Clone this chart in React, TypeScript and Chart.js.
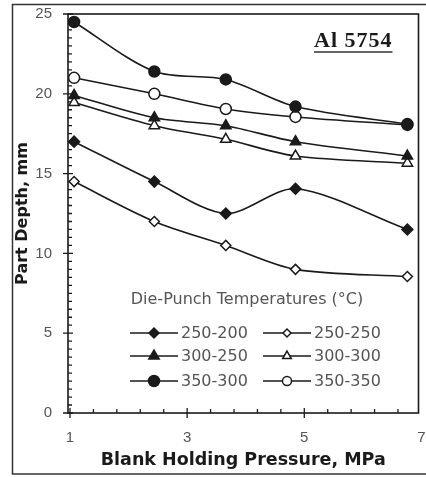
import React, { useEffect, useRef } from 'react';
import { Chart, registerables } from 'chart.js';
import { drawPoint } from 'chart.js/helpers';

Chart.register(...registerables);

// ---- data ----
const pressures = [1.07, 2.44, 3.66, 4.85, 6.76];
const depth250_200 = [17.0, 14.5, 12.5, 14.05, 11.5];
const depth250_250 = [14.5, 12.0, 10.5, 9.0, 8.55];
const depth300_250 = [19.9, 18.5, 18.0, 17.0, 16.1];
const depth300_300 = [19.45, 18.0, 17.15, 16.1, 15.65];
const depth350_300 = [24.5, 21.4, 20.9, 19.2, 18.1];
const depth350_350 = [21.0, 20.0, 19.05, 18.55, 18.05];
const seriesLabels = ['250-200', '250-250', '300-250', '300-300', '350-300', '350-350'];
const xTickValues = [1, 3, 5, 7];
const yTickValues = [0, 5, 10, 15, 20, 25];
const legendTitle = 'Die-Punch Temperatures (\u00B0C)';
const chartTitle = 'Al 5754';
const xTitle = 'Blank Holding Pressure, MPa';
const yTitle = 'Part Depth, mm';

const INK = '#1a1a1a';

type Style = { pointStyle: string; filled: boolean; radius: number; legendRadius: number };
const styles: Style[] = [
  { pointStyle: 'rectRot', filled: true, radius: 5.5, legendRadius: 5 },
  { pointStyle: 'rectRot', filled: false, radius: 5, legendRadius: 4 },
  { pointStyle: 'triangle', filled: true, radius: 6, legendRadius: 6 },
  { pointStyle: 'triangle', filled: false, radius: 6, legendRadius: 5 },
  { pointStyle: 'circle', filled: true, radius: 5.5, legendRadius: 5.5 },
  { pointStyle: 'circle', filled: false, radius: 5.5, legendRadius: 4.5 },
];

const seriesValues = [depth250_200, depth250_250, depth300_250, depth300_300, depth350_300, depth350_350];

const decorPlugin = {
  id: 'decor',
  beforeDraw(chart: any) {
    const ctx = chart.ctx;
    ctx.save();
    ctx.fillStyle = '#fff';
    ctx.fillRect(0, 0, chart.width, chart.height);
    ctx.strokeStyle = '#333';
    ctx.lineWidth = 1.5;
    ctx.strokeRect(12.5, 4.5, chart.width + 20, 469.5);
    ctx.restore();
  },
  beforeDatasetsDraw(chart: any) {
    const ctx = chart.ctx;
    const { left, right, top, bottom } = chart.chartArea;
    const xs = chart.scales.x;
    const ys = chart.scales.y;
    ctx.save();
    ctx.strokeStyle = INK;
    ctx.lineWidth = 1.6;
    ctx.strokeRect(left, top, right - left, bottom - top);
    ctx.lineWidth = 1.3;
    ctx.beginPath();
    for (let i = 0; i <= 15; i++) {
      const v = 1 + i * 0.4;
      const px = xs.getPixelForValue(v);
      if (px < left - 0.5 || px > right + 0.5) continue;
      const major = xTickValues.some((t) => Math.abs(t - v) < 1e-6);
      ctx.moveTo(px, major ? bottom + 5 : bottom);
      ctx.lineTo(px, bottom - (major ? 5 : 4));
    }
    for (let i = 0; i <= 50; i++) {
      const v = i * 0.5;
      const py = ys.getPixelForValue(v);
      const major = yTickValues.some((t) => Math.abs(t - v) < 1e-6);
      ctx.moveTo(major ? left - 5 : left, py);
      ctx.lineTo(left + (major ? 5 : 4), py);
    }
    ctx.stroke();
    ctx.restore();
  },
  afterDraw(chart: any) {
    const ctx = chart.ctx;
    ctx.save();
    ctx.fillStyle = INK;
    ctx.font = 'bold 22px "Liberation Serif"';
    ctx.textAlign = 'left';
    ctx.textBaseline = 'alphabetic';
    (ctx as any).letterSpacing = '1px';
    const tx = 314;
    ctx.fillText(chartTitle, tx, 47);
    const tw = ctx.measureText(chartTitle).width;
    (ctx as any).letterSpacing = '0px';
    ctx.strokeStyle = '#666';
    ctx.lineWidth = 2;
    ctx.beginPath();
    ctx.moveTo(tx, 52);
    ctx.lineTo(tx + tw, 52);
    ctx.stroke();

    ctx.fillStyle = '#555';
    ctx.font = '16px "DejaVu Sans"';
    ctx.textBaseline = 'middle';
    ctx.textAlign = 'center';
    ctx.fillText(legendTitle, 247, 300);
    const cols = [130, 263];
    const rows = [333, 356, 381];
    ctx.textAlign = 'left';
    seriesLabels.forEach((label, i) => {
      const x0 = cols[i % 2];
      const y = rows[Math.floor(i / 2)];
      const st = styles[i];
      ctx.strokeStyle = INK;
      ctx.lineWidth = 1.6;
      ctx.beginPath();
      ctx.moveTo(x0, y);
      ctx.lineTo(x0 + 48, y);
      ctx.stroke();
      ctx.fillStyle = st.filled ? INK : '#fff';
      ctx.strokeStyle = INK;
      ctx.lineWidth = 1.5;
      drawPoint(ctx, { pointStyle: st.pointStyle as any, radius: st.legendRadius, rotation: 0, borderWidth: 1.5 } as any, x0 + 24, y);
      ctx.fillStyle = '#555';
      ctx.fillText(label, x0 + 51, y + 1);
    });
    ctx.restore();
  },
};

export default function App() {
  const ref = useRef<HTMLCanvasElement | null>(null);
  useEffect(() => {
    if (!ref.current) return;
    const datasets = seriesLabels.map((label, i) => {
      const st = styles[i];
      return {
        label,
        data: pressures.map((p, j) => ({ x: p, y: seriesValues[i][j] })),
        borderColor: INK,
        borderWidth: 1.6,
        tension: 0.3,
        pointStyle: st.pointStyle,
        pointRadius: st.radius,
        pointBackgroundColor: st.filled ? INK : '#fff',
        pointBorderColor: INK,
        pointBorderWidth: 1.5,
        fill: false,
      };
    });
    const chart = new Chart(ref.current, {
      type: 'line',
      data: { datasets } as any,
      plugins: [decorPlugin as any],
      options: {
        animation: false,
        responsive: false,
        maintainAspectRatio: false,
        layout: { padding: { top: 14, right: 5, left: 0, bottom: 0 } },
        plugins: { legend: { display: false }, tooltip: { enabled: false }, title: { display: false } },
        scales: {
          x: {
            type: 'linear',
            min: 0.966,
            max: 6.95,
            afterBuildTicks: (s: any) => {
              s.ticks = xTickValues.map((v) => ({ value: v }));
            },
            afterFit: (s: any) => {
              s.height = 64;
              s.paddingLeft = 0;
              s.paddingRight = 0;
              s.paddingTop = 0;
              s.paddingBottom = 0;
            },
            grid: { display: false, drawTicks: false },
            border: { display: false },
            ticks: {
              padding: 16,
              color: '#555',
              font: { family: '"Liberation Sans"', size: 15 },
              maxRotation: 0,
              autoSkip: false,
            },
            title: {
              display: true,
              text: xTitle,
              color: INK,
              font: { family: '"DejaVu Sans"', size: 17.5, weight: 'bold' },
              padding: { top: 0, bottom: 6 },
            },
          },
          y: {
            type: 'linear',
            min: 0,
            max: 25,
            afterBuildTicks: (s: any) => {
              s.ticks = yTickValues.map((v) => ({ value: v }));
            },
            afterFit: (s: any) => {
              s.width = 68;
              s.paddingLeft = 0;
              s.paddingRight = 0;
              s.paddingTop = 0;
              s.paddingBottom = 0;
            },
            grid: { display: false, drawTicks: false },
            border: { display: false },
            ticks: {
              padding: 16,
              color: '#555',
              font: { family: '"Liberation Sans"', size: 15 },
              autoSkip: false,
            },
            title: {
              display: true,
              text: yTitle,
              color: INK,
              font: { family: '"DejaVu Sans"', size: 16, weight: 'bold' },
              padding: { top: 13, bottom: 0 },
            },
          },
        },
      } as any,
    });
    return () => chart.destroy();
  }, []);
  return (
    <canvas
      ref={ref}
      width={426}
      height={477}
      style={{ position: 'fixed', left: 0, top: 0, width: 426, height: 477, display: 'block' }}
    />
  );
}
